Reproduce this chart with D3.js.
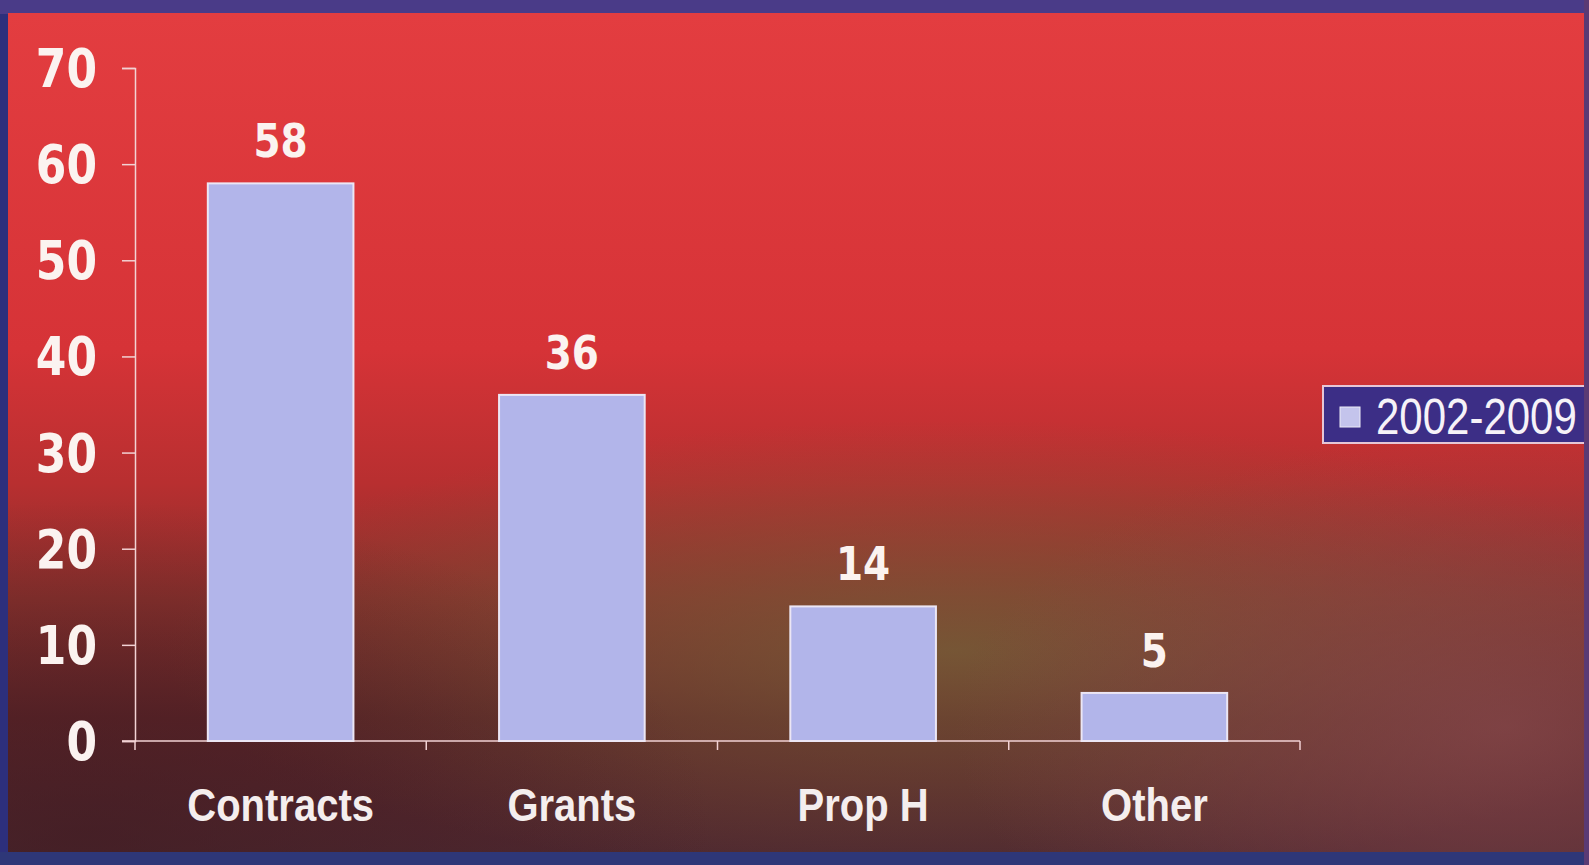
<!DOCTYPE html>
<html>
<head>
<meta charset="utf-8">
<script src="https://cdn.jsdelivr.net/npm/d3@7"></script>
<style>
  html, body { margin: 0; padding: 0; background: #2b2a7e; overflow: hidden; }
  svg { display: block; }
</style>
</head>
<body>
<div class="chart"><svg></svg></div>
<script>
// data
const categories = ["Contracts", "Grants", "Prop H", "Other"];
const values = [58, 36, 14, 5];
const yTicks = [0, 10, 20, 30, 40, 50, 60, 70];
const seriesName = "2002-2009";

let width = 1589,
  height = 865,
  margin = { top: 68, right: 289, bottom: 124, left: 135 };

let svg = d3
  .select(".chart svg")
  .attr("width", width)
  .attr("height", height);

let defs = svg.append("defs");

// 背景漸層 (紅 -> 暗褐)
let bg = defs
  .append("linearGradient")
  .attr("id", "bgGrad")
  .attr("x1", 0).attr("y1", 0).attr("x2", 0).attr("y2", 1);
[
  [0, "#e33d40"],
  [0.4, "#d63337"],
  [0.56, "#b82f30"],
  [0.7, "#88302c"],
  [0.84, "#5e2428"],
  [1, "#4e2830"]
].forEach(s => bg.append("stop").attr("offset", s[0]).attr("stop-color", s[1]));

// olive glow in the lower middle
let olive = defs
  .append("radialGradient")
  .attr("id", "oliveGrad")
  .attr("cx", 0.6).attr("cy", 0.76).attr("r", 0.5)
  .attr("gradientTransform", "translate(0.6,0.76) scale(1,0.55) translate(-0.6,-0.76)");
olive.append("stop").attr("offset", 0).attr("stop-color", "#76683a").attr("stop-opacity", 0.7);
olive.append("stop").attr("offset", 0.55).attr("stop-color", "#7a5e38").attr("stop-opacity", 0.35);
olive.append("stop").attr("offset", 1).attr("stop-color", "#7a5a38").attr("stop-opacity", 0);

// pinkish brown at right bottom
let pink = defs
  .append("radialGradient")
  .attr("id", "pinkGrad")
  .attr("cx", 0.95).attr("cy", 0.85).attr("r", 0.35);
pink.append("stop").attr("offset", 0).attr("stop-color", "#8a4a4e").attr("stop-opacity", 0.7);
pink.append("stop").attr("offset", 1).attr("stop-color", "#8a4a4e").attr("stop-opacity", 0);

// dark left-bottom
let dark = defs
  .append("radialGradient")
  .attr("id", "darkGrad")
  .attr("cx", 0.05).attr("cy", 0.98).attr("r", 0.4);
dark.append("stop").attr("offset", 0).attr("stop-color", "#3e1a20").attr("stop-opacity", 0.6);
dark.append("stop").attr("offset", 1).attr("stop-color", "#3e1a20").attr("stop-opacity", 0);

// 外框
svg.append("rect").attr("width", width).attr("height", height).attr("fill", "#2d2f7c");
svg.append("rect").attr("x", 0).attr("y", 0).attr("width", width).attr("height", 14).attr("fill", "#4a3b88");

let inner = { x: 8, y: 13, w: 1576, h: 839 };
["bgGrad", "oliveGrad", "pinkGrad", "darkGrad"].forEach(id => {
  svg
    .append("rect")
    .attr("x", inner.x)
    .attr("y", inner.y)
    .attr("width", inner.w)
    .attr("height", inner.h)
    .attr("fill", `url(#${id})`);
});

let x = d3
  .scaleBand()
  .domain(categories)
  .range([margin.left, width - margin.right])
  .paddingInner(0.5)
  .paddingOuter(0.25);

let y = d3
  .scaleLinear()
  .domain([0, 70])
  .range([height - margin.bottom, margin.top]);

let axisColor = "#f2d2d4";

// y axis
let yAxis = svg
  .append("g")
  .attr("transform", `translate(${margin.left},0)`)
  .call(d3.axisLeft(y).tickValues(yTicks).tickSize(13).tickFormat(""));
yAxis.select(".domain").attr("stroke", axisColor).attr("stroke-width", 1.5);
yAxis.selectAll(".tick line").attr("stroke", axisColor).attr("stroke-width", 1.5);

// x axis (ticks between categories)
let x0 = margin.left,
  step = x.step();
let xAxis = svg
  .append("g")
  .attr("transform", `translate(0,${y(0)})`);
xAxis
  .append("line")
  .attr("x1", x0 - 13)
  .attr("x2", width - margin.right)
  .attr("stroke", axisColor)
  .attr("stroke-width", 1.5);
xAxis
  .selectAll("line.tk")
  .data(d3.range(categories.length + 1))
  .enter()
  .append("line")
  .attr("class", "tk")
  .attr("x1", d => x0 + d * step)
  .attr("x2", d => x0 + d * step)
  .attr("y1", 0)
  .attr("y2", 9)
  .attr("stroke", axisColor)
  .attr("stroke-width", 1.5);

// y tick labels (photo is stretched vertically, hence scale)
svg
  .append("g")
  .selectAll("text")
  .data(yTicks)
  .enter()
  .append("text")
  .attr("transform", d => `translate(97,${y(d)}) scale(1,1.2)`)
  .attr("text-anchor", "end")
  .attr("dy", "0.36em")
  .attr("font-family", "DejaVu Sans")
  .attr("font-weight", "bold")
  .attr("font-size", 44)
  .attr("fill", "#fbf3f0")
  .text(d => d);

// bars
svg
  .append("g")
  .selectAll("rect")
  .data(values)
  .enter()
  .append("rect")
  .attr("x", (d, i) => x(categories[i]))
  .attr("y", d => y(d))
  .attr("width", x.bandwidth())
  .attr("height", d => y(0) - y(d))
  .attr("fill", "#b2b5ea")
  .attr("stroke", "#ece6f4")
  .attr("stroke-width", 2);

// 數值標籤
svg
  .append("g")
  .selectAll("text")
  .data(values)
  .enter()
  .append("text")
  .attr("transform", (d, i) =>
    `translate(${x(categories[i]) + x.bandwidth() / 2},${y(d) - 43}) scale(1,1.2)`)
  .attr("text-anchor", "middle")
  .attr("dy", "0.36em")
  .attr("font-family", "DejaVu Sans")
  .attr("font-weight", "bold")
  .attr("font-size", 39)
  .attr("fill", "#fbf3f0")
  .text(d => d);

// category labels
svg
  .append("g")
  .selectAll("text")
  .data(categories)
  .enter()
  .append("text")
  .attr("transform", d => `translate(${x(d) + x.bandwidth() / 2},804) scale(1,1.17)`)
  .attr("text-anchor", "middle")
  .attr("dy", "0.36em")
  .attr("font-family", "Liberation Sans")
  .attr("font-weight", "bold")
  .attr("font-size", 40)
  .attr("fill", "#f4eeee")
  .text(d => d);

// legend
let legend = svg.append("g").attr("transform", "translate(1323,386)");
legend
  .append("rect")
  .attr("width", 280)
  .attr("height", 57)
  .attr("fill", "#3c2e86")
  .attr("stroke", "#e6c6d6")
  .attr("stroke-width", 2);
legend
  .append("rect")
  .attr("x", 17)
  .attr("y", 21)
  .attr("width", 20)
  .attr("height", 20)
  .attr("fill", "#c4c4ec")
  .attr("stroke", "#ecebf6")
  .attr("stroke-width", 1);
legend
  .append("text")
  .attr("transform", "translate(53,30) scale(1,1.2)")
  .attr("dy", "0.36em")
  .attr("font-family", "Liberation Sans")
  .attr("font-size", 42)
  .attr("fill", "#f6f2f8")
  .text(seriesName);

// right and bottom frame edges
svg.append("rect").attr("x", 0).attr("y", 852).attr("width", width).attr("height", 13).attr("fill", "#2e3778");
svg.append("rect").attr("x", 1584).attr("y", 0).attr("width", 5).attr("height", height).attr("fill", "#5a3a74");
</script>
</body>
</html>
